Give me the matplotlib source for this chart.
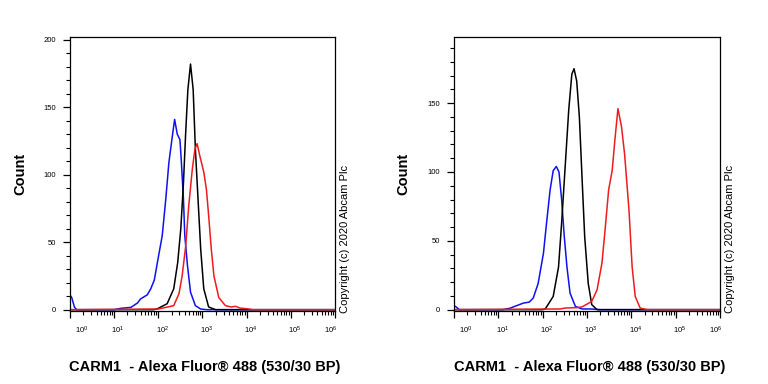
import matplotlib
matplotlib.use("Agg")
import matplotlib.pyplot as plt
import matplotlib.ticker as mticker
from matplotlib.transforms import ScaledTranslation
import numpy as np

plt.rcParams['font.family'] = ['Liberation Sans', 'DejaVu Sans']
plt.rcParams['mathtext.fontset'] = 'custom'
plt.rcParams['mathtext.rm'] = 'Liberation Sans'

# histogram traces: x = log10(fluorescence), y = count
# left panel
l_blue_x = [0.0, 0.04, 0.1, 0.15, 1.0, 1.15, 1.38, 1.53, 1.6, 1.75, 1.83, 1.91, 1.98, 2.09, 2.17, 2.24,
            2.32, 2.37, 2.43, 2.49, 2.52, 2.57, 2.60, 2.66, 2.73, 2.84, 2.96, 3.1, 6.0]
l_blue_y = [11, 9, 2, 0, 0, 1, 1.7, 5, 8, 11, 15.5, 22, 35, 55, 82, 109,
            129, 141, 130, 126, 111, 82, 55, 33, 13, 3, 0.5, 0, 0]
l_black_x = [0.0, 1.9, 1.98, 2.20, 2.35, 2.44, 2.51, 2.57, 2.62, 2.67, 2.73, 2.79, 2.84, 2.90,
             2.96, 3.03, 3.14, 3.30, 6.0]
l_black_y = [0, 0, 0.7, 4.4, 15.5, 35, 60, 94, 131, 163, 182, 163, 119, 82,
             45, 15.5, 2, 0, 0]
l_red_x = [0.0, 2.0, 2.35, 2.47, 2.54, 2.62, 2.69, 2.77, 2.83, 2.88, 2.94, 3.03, 3.09, 3.14,
           3.20, 3.26, 3.37, 3.52, 3.65, 3.75, 3.85, 4.01, 4.15, 6.0]
l_red_y = [0, 0.5, 3, 12, 25, 47, 77, 104, 119, 123, 114, 102, 89, 70,
           45, 25, 9, 3, 2, 2.5, 1.2, 0.7, 0, 0]

# right panel
r_blue_x = [0.0, 0.05, 0.12, 1.1, 1.26, 1.57, 1.7, 1.79, 1.90, 2.02, 2.09, 2.17, 2.24, 2.31, 2.37,
            2.43, 2.49, 2.55, 2.62, 2.74, 2.89, 3.1, 3.3, 6.0]
r_blue_y = [3, 2, 0, 0, 1, 4.8, 5.5, 8.5, 19, 41, 63, 87, 101, 104, 100,
            80, 53, 31, 12, 2.4, 0.5, 0.5, 0, 0]
r_black_x = [0.0, 2.0, 2.06, 2.24, 2.36, 2.43, 2.51, 2.59, 2.66, 2.71, 2.77, 2.83, 2.89, 2.95,
             3.03, 3.11, 3.23, 6.0]
r_black_y = [0, 0, 0.5, 9.6, 31, 63, 104, 145, 171, 175, 166, 140, 96, 53,
             19, 3.6, 0, 0]
r_red_x = [0.0, 2.4, 2.51, 2.77, 2.89, 3.11, 3.23, 3.34, 3.41, 3.49, 3.57, 3.63, 3.70, 3.78,
           3.85, 3.95, 4.02, 4.09, 4.20, 4.36, 6.0]
r_red_y = [0, 0.5, 1.2, 1.5, 2, 6, 14.5, 34, 58, 87, 101, 123, 146, 133,
           113, 72, 31, 9.6, 1.2, 0, 0]

panels = [
    dict(rect=[0.0911, 0.190, 0.345, 0.7135], ymax=202, yticks=[0, 50, 100, 150, 200],
         curves=[(l_blue_x, l_blue_y), (l_black_x, l_black_y), (l_red_x, l_red_y)]),
    dict(rect=[0.591, 0.190, 0.3464, 0.7135], ymax=198, yticks=[0, 50, 100, 150],
         curves=[(r_blue_x, r_blue_y), (r_black_x, r_black_y), (r_red_x, r_red_y)]),
]
colors = ['#1010f0', '#000000', '#ee1c1c']
xticks = [1, 10, 100, 1e3, 1e4, 1e5, 1e6]
xticklabels = [r'$\mathregular{10^{%d}}$' % i for i in range(7)]

fig = plt.figure(figsize=(7.68, 3.84), dpi=100)

for p in panels:
    ax = fig.add_axes(p['rect'])
    for (xs, ys), c in zip(p['curves'], colors):
        ax.plot(10 ** np.array(xs), ys, color=c, lw=1.1)
    ax.set_xscale('log')
    ax.set_xlim(1, 1e6)
    ax.set_ylim(-1, p['ymax'])
    ax.set_xticks(xticks)
    ax.set_xticklabels(xticklabels)
    ax.xaxis.set_minor_locator(mticker.LogLocator(base=10, subs=np.arange(2, 10)))
    ax.xaxis.set_minor_formatter(mticker.NullFormatter())
    ax.set_yticks(p['yticks'])
    ax.yaxis.set_minor_locator(mticker.MultipleLocator(10))
    ax.tick_params(axis='both', which='major', direction='out', length=5, width=0.9,
                   labelsize=5.5, pad=5)
    ax.tick_params(axis='both', which='minor', direction='out', length=3, width=0.8)
    for s in ax.spines.values():
        s.set_linewidth(0.9)
    # shift x tick labels like the cytometer software does
    labs = ax.get_xticklabels()
    for i, lab in enumerate(labs):
        dx = 4
        if i == 0:
            dx = 12
        elif i == len(labs) - 1:
            dx = -4
        lab.set_transform(lab.get_transform() + ScaledTranslation(dx / 100, 0, fig.dpi_scale_trans))
    ax.set_ylabel('Count', fontsize=10.5, fontweight='bold')
    ax.yaxis.set_label_coords(-0.162, 0.5)
    ax.set_xlabel('CARM1  - Alexa Fluor\u00ae 488 (530/30 BP)', fontsize=10.5, fontweight='bold')
    ax.xaxis.set_label_coords(0.51, -0.18)
    ax.text(1.038, -0.008, 'Copyright (c) 2020 Abcam Plc', rotation=90, fontsize=8,
            transform=ax.transAxes, ha='center', va='bottom')

fig.savefig('out.png', dpi=100)
